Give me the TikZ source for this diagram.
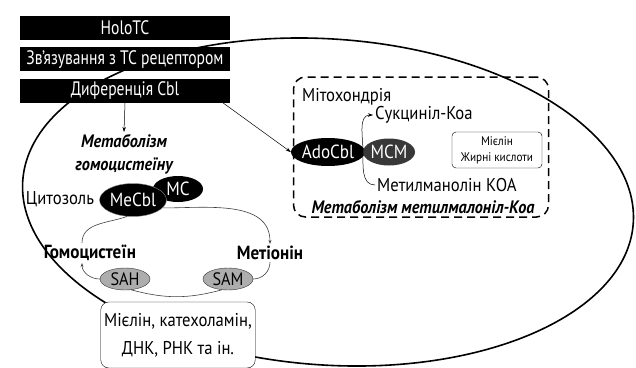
\documentclass[tikz,border=0pt]{standalone}
\usepackage{fontspec}
\setmainfont{PT Sans}[FakeStretch=0.9]
\newfontfamily\barfont{PT Sans}[FakeStretch=0.8]
\usetikzlibrary{arrows.meta, positioning, shapes.geometric}

\tikzset{
  blackbar/.style={fill=black, text=white, minimum width=210pt, minimum height=24pt,
    inner sep=0pt, font=\barfont\fontsize{19.5}{20}\selectfont},
  blob/.style={ellipse, fill=black, text=white, inner sep=0pt, font=\fontsize{19}{20}\selectfont},
  greyblob/.style={ellipse, fill=black!32, draw=black!80, inner sep=0pt,
    minimum width=50pt, minimum height=22pt, font=\fontsize{18}{20}\selectfont},
  txt/.style={inner sep=2pt, font=\fontsize{18.5}{20}\selectfont},
  boldtxt/.style={inner sep=2pt, font=\fontsize{19}{20}\bfseries\selectfont},
  heading/.style={inner sep=2pt, font=\fontsize{18}{23}\bfseries\itshape\selectfont},
  flow/.style={-{Stealth[length=5pt, width=3.5pt]}, line width=0.5pt},
  loopline/.style={draw=black!75, line width=0.6pt},
  looparrow/.style={loopline, -{Stealth[length=4pt, width=3pt]}}
}

\begin{document}
\begin{tikzpicture}[x=1pt, y=1pt]
    \useasboundingbox (0,0) rectangle (636,-367);

    % The cell
    \draw[line width=1.6pt, rotate around={-4:(328,-202)}]
        (328,-202) ellipse [x radius=306pt, y radius=163pt];

    % Entry of Cbl
    \node[blackbar]                   (holotc) at (125,-28) {HoloTC};
    \node[blackbar, below=7pt of holotc] (bind)  {Зв’язування з ТС рецептором};
    \node[blackbar, below=7pt of bind]   (diff)  {Диференція Cbl};

    % Mitochondrion
    \node[draw, rounded corners=12pt, line width=1.5pt, dash pattern=on 8pt off 5pt,
          minimum width=255pt, minimum height=140pt] (mito) at (421,-147) {};
    \node[txt, anchor=north west] (mitolabel) at (300,-86) {Мітохондрія};
    \node[blob, minimum width=67pt, minimum height=28pt]             (adocbl) at (328,-152) {AdoCbl};
    \node[blob, fill=black!78, minimum width=46pt, minimum height=27pt] (mcm) at (389,-152) {MCM};
    \coordinate (fork) at (363,-152);
    \node[txt, anchor=west] (succ) at (373,-115) {Сукциніл-Коа};
    \node[txt, anchor=west] (mma)  at (375,-185) {Метилманолін КОА};
    \node[heading] (mmcoa) at (423,-207) {Метаболізм метилмалоніл-Коа};
    \node[draw, rounded corners=4pt, minimum width=90pt, minimum height=36pt, align=center,
          font=\fontsize{12.5}{16}\selectfont] (myelin) at (497,-150) {Мієлін\\Жирні кислоти};

    \draw[flow] (mma.west) to[out=180, in=-90] (fork) to[out=90, in=180] (succ.west);

    % Cytosol
    \node[heading, align=center] (hcymet) at (124,-154) {Метаболізм\\гомоцистеїну};
    \node[txt] (cytosol) at (60,-199) {Цитозоль};
    \node[blob, minimum width=50pt, minimum height=26pt] (mc) at (178,-189) {MC};
    \node[blob, draw=black!45, minimum width=67pt, minimum height=33pt] (mecbl) at (133,-200) {MeCbl};
    \node[boldtxt] (hcy) at (90,-253)  {Гомоцистеїн};
    \node[boldtxt] (met) at (270,-253) {Метіонін};
    \node[greyblob] (sah) at (125,-279) {SAH};
    \node[greyblob] (sam) at (228,-279) {SAM};
    \node[draw, fill=white, rounded corners=8pt, minimum width=150pt, minimum height=66pt,
          align=center, font=\fontsize{18.5}{28}\selectfont] (products) at (178,-335)
          {Мієлін, катехоламін,\\ДНК, РНК та ін.};

    % Connections
    \draw[flow] (diff.south) -- (hcymet.north);
    \draw[flow] ([xshift=-7pt]diff.south east) -- (adocbl.west);

    \draw[loopline]  ([xshift=-8pt]hcy.north) to[out=90, in=200] (mecbl.250);
    \draw[looparrow] (mecbl.-15) to[out=0, in=90] (met.north);
    \draw[loopline]  (met.south) to[out=-90, in=0] (sam.east);
    \draw[loopline]  (sam.240) to[bend left=15] (sah.-60);
    \draw[looparrow] (sah.west) to[out=180, in=-90] ([xshift=-8pt]hcy.south);
\end{tikzpicture}
\end{document}
